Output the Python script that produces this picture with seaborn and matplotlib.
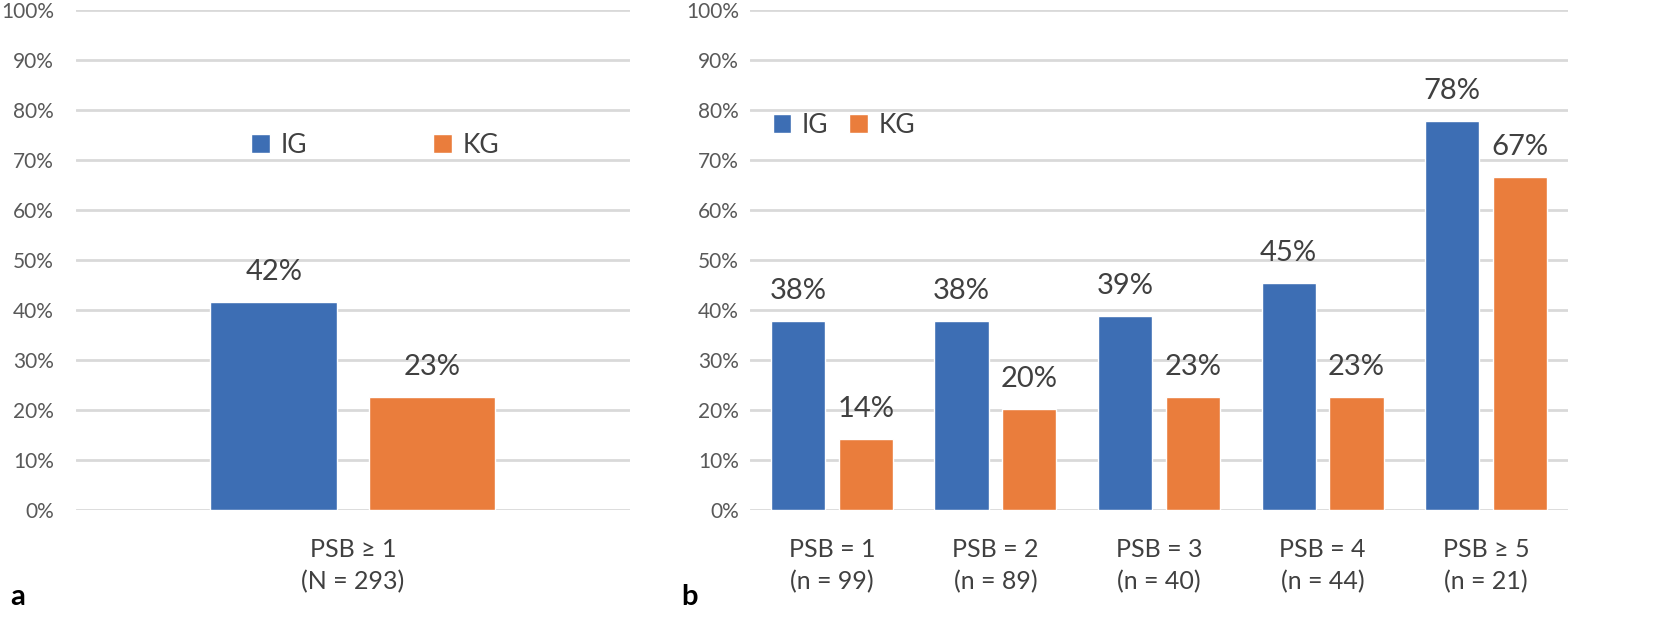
import pandas as pd
import seaborn as sns
import matplotlib.pyplot as plt
from matplotlib.ticker import FuncFormatter

# Daten (Anteile in %)
gruppen = ['IG', 'KG']
links_kat = ['PSB ≥ 1\n(N = 293)']
links_ig = [41.6]
links_kg = [22.6]

rechts_kat = ['PSB = 1\n(n = 99)', 'PSB = 2\n(n = 89)', 'PSB = 3\n(n = 40)',
              'PSB = 4\n(n = 44)', 'PSB ≥ 5\n(n = 21)']
rechts_ig = [37.8, 37.8, 38.9, 45.4, 77.8]
rechts_kg = [14.3, 20.2, 22.7, 22.7, 66.7]

farben = {'IG': '#3D6EB4', 'KG': '#EA7D3C'}

sns.set_theme(style='white')
plt.rcParams['font.family'] = ['Lato', 'DejaVu Sans']

def tabelle(kat, ig, kg):
    return pd.DataFrame({
        'Kategorie': kat * 2,
        'Gruppe': ['IG'] * len(kat) + ['KG'] * len(kat),
        'Wert': ig + kg,
    })

fig = plt.figure(figsize=(16.53, 6.44), dpi=100)
ax_a = fig.add_axes([0.046, 0.208, 0.335, 0.7764])
ax_b = fig.add_axes([0.4537, 0.208, 0.4949, 0.7764])

def zeichnen(ax, df, breite, pad_y):
    sns.barplot(data=df, x='Kategorie', y='Wert', hue='Gruppe', hue_order=gruppen,
                palette=farben, width=breite, gap=0.2, saturation=1, ax=ax, zorder=3)
    ax.set_ylim(0, 100)
    ax.set_yticks(range(0, 101, 10))
    ax.yaxis.set_major_formatter(FuncFormatter(lambda v, p: f'{v:.0f}%'))
    ax.grid(axis='y', color='#D9D9D9', linewidth=2, zorder=0)
    ax.set_axisbelow(True)
    for s in ax.spines.values():
        s.set_visible(False)
    ax.tick_params(axis='y', length=0, pad=pad_y, labelsize=15, labelcolor='#595959')
    ax.tick_params(axis='x', length=0, pad=20, labelsize=18, labelcolor='#404040')
    for t in ax.get_xticklabels():
        t.set_linespacing(1.45)
    ax.set_xlabel('')
    ax.set_ylabel('')
    for cont in ax.containers:
        ax.bar_label(cont, labels=[f'{b.get_height():.0f}%' for b in cont],
                     padding=12, fontsize=21, color='#404040')

zeichnen(ax_a, tabelle(links_kat, links_ig, links_kg), 0.572, 16)
ax_a.set_xlim(-0.5, 0.5)
ax_a.legend(loc='center', bbox_to_anchor=(0.54, 0.73), ncol=2, frameon=False,
            fontsize=19, handlelength=0.7, handleheight=0.7, handletextpad=0.4,
            columnspacing=4.8, labelcolor='#404040')

zeichnen(ax_b, tabelle(rechts_kat, rechts_ig, rechts_kg), 0.83, 8)
ax_b.set_xlim(-0.5, 4.5)
ax_b.legend(loc='center left', bbox_to_anchor=(0.015, 0.77), ncol=2, frameon=False,
            fontsize=19, handlelength=0.7, handleheight=0.7, handletextpad=0.4,
            columnspacing=0.8, borderaxespad=0, labelcolor='#404040')

fig.text(0.006, 0.06, 'a', fontsize=21, fontweight='bold', color='black')
fig.text(0.412, 0.06, 'b', fontsize=21, fontweight='bold', color='black')

plt.savefig('out.png', dpi=100)
plt.close()
